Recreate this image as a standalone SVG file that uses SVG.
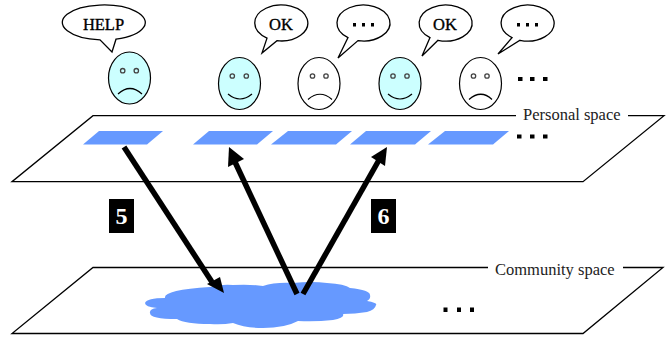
<svg xmlns="http://www.w3.org/2000/svg" width="671" height="338" viewBox="0 0 671 338">
<defs>
<style>
.plane{fill:none;stroke:#000;stroke-width:1.3;stroke-linejoin:miter}
.tile{fill:#6699ff}
.bub{fill:#fff;stroke:#000;stroke-width:1.3}
.face{stroke:#000;stroke-width:1.2}
.cy{fill:#ccffff}
.wh{fill:#fff}
.eye{fill:none;stroke:#444;stroke-width:1.3}
.mouth{fill:none;stroke:#000;stroke-width:1.2}
.t{font-family:"Liberation Serif",serif;fill:#000}
.lbl{font-size:16.5px;fill:#222}
.say{font-size:16.5px;text-anchor:middle;stroke:#000;stroke-width:.35}
.num{font-family:"Liberation Serif",serif;font-size:24px;font-weight:bold;fill:#fff;text-anchor:middle}
.arr{fill:none;stroke:#000;stroke-width:5.500}
.ah{fill:#000}
.d{fill:#000}
</style>
</defs>
<g id="personal-space">
<path class="plane" d="M516,115.700H93L12,181.700H583L664,115.700H628"/>
<text class="t lbl" x="523" y="120">Personal space</text>
</g>
<g id="community-space">
<path class="plane" d="M488,267.500H93L12,333.500H583L663,267.500H623"/>
<text class="t lbl" x="495" y="275">Community space</text>
</g>
<g id="tiles">
<polygon class="tile" points="99,131 163,131 147,144.500 83,144.500"/>
<polygon class="tile" points="209,131 273,131 257,144.500 193,144.500"/>
<polygon class="tile" points="288,131 352,131 336,144.500 271,144.500"/>
<polygon class="tile" points="366,131 431,131 415,144.500 350,144.500"/>
<polygon class="tile" points="445,131 509,131 493,144.500 428,144.500"/>
</g>
<g id="cloud">
<path class="tile" d="M145,303Q147,298 165,298Q163,290 210,287Q222,284 233,285Q250,284 263,286Q275,282 293,283Q312,281 327,283Q345,284 350,288Q370,290 370,295Q371,299 367,301Q378,303 376,305Q375,310 367,312Q355,314 343,314Q345,318 333,320Q315,322 298,321Q285,328 263,328Q245,328 233,323Q222,325 210,324Q185,324 177,319Q150,319 150,313Q149,309 157,308Q145,307 145,303Z"/>
</g>
<g id="face-1">
<ellipse class="face cy" cx="129.500" cy="78" rx="21" ry="26"/>
<circle class="eye" cx="122.700" cy="70.700" r="2.200"/><circle class="eye" cx="136.300" cy="70.700" r="2.200"/>
<path class="mouth" d="M118,94Q130,83 142,94"/>
</g>
<g id="face-2">
<ellipse class="face cy" cx="239.500" cy="83.500" rx="21" ry="26"/>
<circle class="eye" cx="232.300" cy="76" r="2.200"/><circle class="eye" cx="246.300" cy="76" r="2.200"/>
<path class="mouth" d="M228,94Q240,104 252,94"/>
</g>
<g id="face-3">
<ellipse class="face wh" cx="319" cy="83.500" rx="21" ry="26"/>
<circle class="eye" cx="312.500" cy="76" r="2.200"/><circle class="eye" cx="326" cy="76" r="2.200"/>
<path class="mouth" d="M308,99.500Q320,89 332,99.500"/>
</g>
<g id="face-4">
<ellipse class="face cy" cx="400" cy="83.500" rx="21" ry="26"/>
<circle class="eye" cx="393" cy="76" r="2.200"/><circle class="eye" cx="407" cy="76" r="2.200"/>
<path class="mouth" d="M388,94Q400,104 412,94"/>
</g>
<g id="face-5">
<ellipse class="face wh" cx="480.500" cy="83.500" rx="21" ry="26"/>
<circle class="eye" cx="473.500" cy="76" r="2.200"/><circle class="eye" cx="487" cy="76" r="2.200"/>
<path class="mouth" d="M469,99.500Q481,89 492,99.500"/>
</g>
<g id="bubble-help">
<path class="bub" d="M100,39.900A41.500,17.500 0 1 1 116,39.200L112,52Z"/>
<text class="t say" x="103.500" y="30">HELP</text>
</g>
<g id="bubble-ok-1">
<path class="bub" d="M267,38.100A26.500,18 0 1 1 277,40.700L262,53Z"/>
<text class="t say" x="281" y="30">OK</text>
</g>
<g id="bubble-dots-1">
<path class="bub" d="M348,37.600A26.500,18 0 1 1 358,40.600L338,58Z"/>
<g class="d"><rect x="353" y="23" width="3" height="3.500"/><rect x="362" y="23" width="3" height="3.500"/><rect x="371" y="23" width="3" height="3.500"/></g>
</g>
<g id="bubble-ok-2">
<path class="bub" d="M430,37.600A26.500,18 0 1 1 438,40.300L422,56Z"/>
<text class="t say" x="445" y="30">OK</text>
</g>
<g id="bubble-dots-2">
<path class="bub" d="M512,37.600A26.500,18 0 1 1 520,40.300L498,54Z"/>
<g class="d"><rect x="517" y="23" width="3" height="3.500"/><rect x="526" y="23" width="3" height="3.500"/><rect x="535" y="23" width="3" height="3.500"/></g>
</g>
<g id="ellipsis">
<g class="d">
<rect x="518" y="77" width="4.500" height="4"/><rect x="530" y="77" width="4.500" height="4"/><rect x="543" y="77" width="4.500" height="4"/>
<rect x="517" y="134.500" width="4.500" height="4"/><rect x="530" y="134.500" width="4.500" height="4"/><rect x="543" y="134.500" width="4.500" height="4"/>
<rect x="443.500" y="307.500" width="4" height="4.500"/><rect x="457" y="307.500" width="4" height="4.500"/><rect x="470" y="307.500" width="4" height="4.500"/>
</g>
</g>
<g id="connectors">
<path class="arr" d="M124,147L212,282"/>
<polygon class="ah" points="224,293 207,284 220,277"/>
<path class="arr" d="M297,294L235,162"/>
<polygon class="ah" points="229,147 244,159 228,167"/>
<path class="arr" d="M303,294L379,160"/>
<polygon class="ah" points="387,147 385,166 371,157"/>
</g>
<g id="badge-5">
<rect x="109" y="199" width="25" height="34" fill="#000"/>
<text class="num" x="121.500" y="224">5</text>
</g>
<g id="badge-6">
<rect x="371" y="199" width="25" height="34" fill="#000"/>
<text class="num" x="383.500" y="224">6</text>
</g>
</svg>
